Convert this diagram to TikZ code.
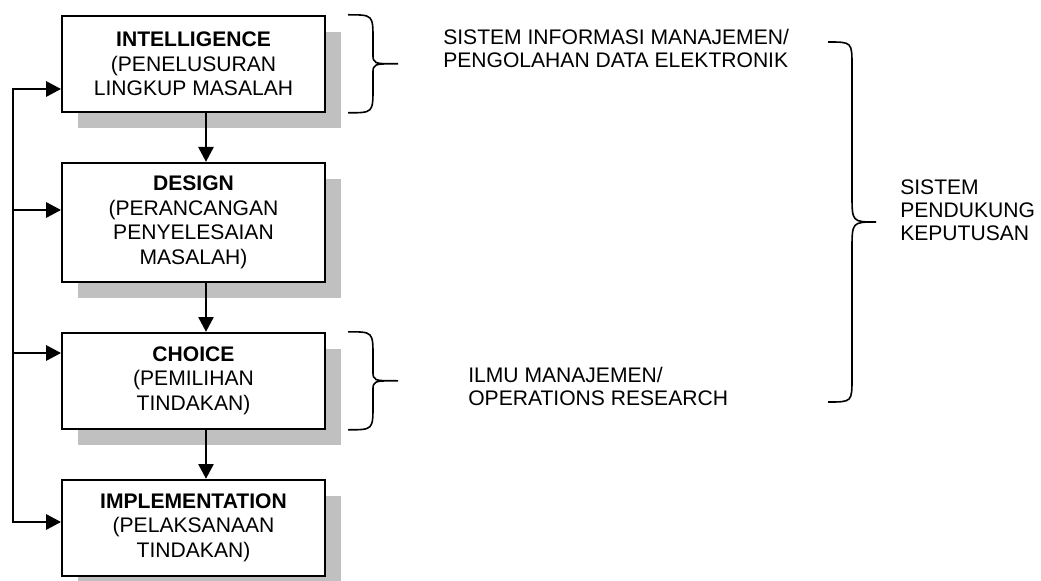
\documentclass[tikz,border=0pt]{standalone}
\usepackage{fontspec}
\setmainfont{Liberation Sans}
\usepackage{xcolor}
\usepackage{tikz}
\usetikzlibrary{arrows.meta,positioning,calc,shadows}
\definecolor{inkblack}{RGB}{0,0,0}
\definecolor{shadowgray}{RGB}{192,192,192}

\newcommand{\curlybrace}[4]{%
  \draw[brc] let \p1=(#1), \p2=(#2), \p3=($(#1)!0.5!(#2)$) in
    (\p1) .. controls (\x1+#3,\y1) .. (\x1+#3,\y1-#3)
    -- (\x1+#3,\y3+#4) .. controls (\x1+#3,\y3) .. (\x1+2*#3,\y3)
    .. controls (\x1+#3,\y3) .. (\x1+#3,\y3-#4)
    -- (\x1+#3,\y2+#3) .. controls (\x1+#3,\y2) .. (\p2);
}

\begin{document}
\begin{tikzpicture}[
    node distance=1.225cm,
    stage/.style={draw=inkblack, line width=0.05cm, fill=white,
                minimum width=6.575cm, minimum height=2.4cm, align=center, inner sep=2pt,
                font=\fontsize{15}{17.4}\selectfont,
                drop shadow={shadow xshift=0.39cm, shadow yshift=-0.4cm, fill=shadowgray, opacity=1}},
    note/.style={align=left, inner sep=0pt, anchor=west, font=\fontsize{15}{16.4}\selectfont},
    flowArr/.style={-{Triangle[length=0.37cm,width=0.38cm]}, line width=0.05cm, inkblack},
    backArr/.style={{Triangle[length=0.37cm,width=0.38cm]}-{Triangle[length=0.37cm,width=0.38cm]}, line width=0.05cm, inkblack},
    brc/.style={line width=0.04cm, inkblack}
]
\useasboundingbox (0,0) rectangle (26.025,-14.525);
\node[stage, anchor=north west] (intel) at (1.525,-0.37) {\textbf{INTELLIGENCE}\\(PENELUSURAN\\LINGKUP MASALAH};
\node[stage, below=of intel, minimum height=2.975cm] (design) {\textbf{DESIGN}\\(PERANCANGAN\\PENYELESAIAN\\MASALAH)};
\node[stage, below=of design] (choice) {\textbf{CHOICE}\\(PEMILIHAN\\TINDAKAN)};
\node[stage, below=of choice] (impl) {\textbf{IMPLEMENTATION}\\(PELAKSANAAN\\TINDAKAN)};

\draw[flowArr] ([xshift=0.3125cm]intel.south) -- ([xshift=0.3125cm]design.north);
\draw[flowArr] ([xshift=0.3125cm]design.south) -- ([xshift=0.3125cm]choice.north);
\draw[flowArr] ([xshift=0.3125cm]choice.south) -- ([xshift=0.3125cm]impl.north);

\coordinate (fb1) at (0.32,-2.225);
\coordinate (fb2) at (0.32,-5.25);
\coordinate (fb3) at (0.32,-8.825);
\coordinate (fb4) at (0.32,-13.05);
\draw[backArr] (fb4 -| impl.west) -- (fb4) -- (fb1) -- (fb1 -| intel.west);
\draw[flowArr] (fb2) -- (fb2 -| design.west);
\draw[flowArr] (fb3) -- (fb3 -| choice.west);

\coordinate (b1top) at ([xshift=0.55cm]intel.north east);
\coordinate (b1bot) at ([xshift=0.55cm]intel.south east);
\coordinate (b2top) at ([xshift=0.55cm]choice.north east);
\coordinate (b2bot) at ([xshift=0.55cm]choice.south east);
\coordinate (b3top) at (20.7,-1.05);
\coordinate (b3bot) at (20.7,-10.05);
\curlybrace{b1top}{b1bot}{0.625cm}{0.25cm}
\curlybrace{b2top}{b2bot}{0.625cm}{0.25cm}
\curlybrace{b3top}{b3bot}{0.6cm}{0.7cm}

\node[note] (simtext) at (11.075,-1.2125) {SISTEM INFORMASI MANAJEMEN/\\PENGOLAHAN DATA ELEKTRONIK};
\node[note] (mstext) at (11.7,-9.6625) {ILMU MANAJEMEN/\\OPERATIONS RESEARCH};
\node[note] (spktext) at (22.5,-5.25) {SISTEM\\PENDUKUNG\\KEPUTUSAN};
\end{tikzpicture}
\end{document}
